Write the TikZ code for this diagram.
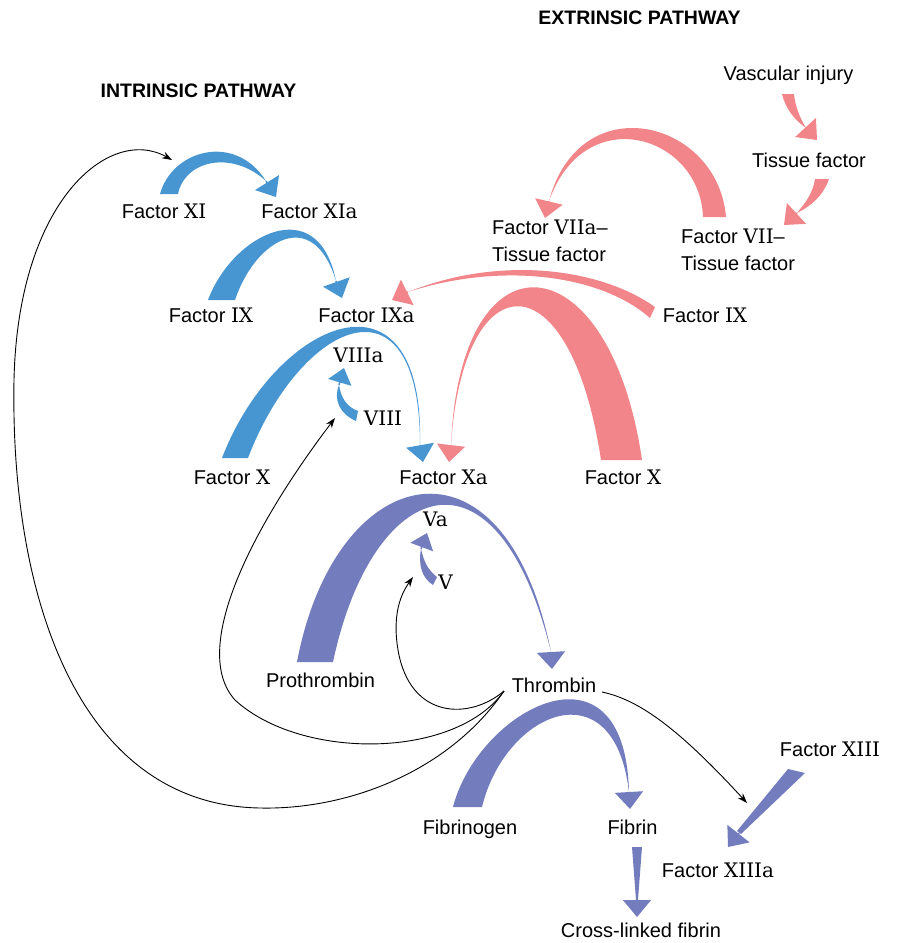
\documentclass[tikz,border=0pt]{standalone}
\usepackage{fontspec}
\setmainfont{Liberation Sans}
\newfontfamily\numfont{DejaVu Serif}
\usetikzlibrary{arrows.meta}
\definecolor{cblue}{RGB}{71,150,210}
\definecolor{cred}{RGB}{242,133,137}
\definecolor{cpurple}{RGB}{115,125,190}
\newcommand{\rnum}[1]{{\numfont #1}}

\begin{document}
\begin{tikzpicture}[x=1pt, y=-1pt,
    lbl/.style={inner sep=0pt, text height=14.5pt, text depth=0pt, font=\fontsize{20}{27}\selectfont},
    twoline/.style={inner sep=0pt, align=left, anchor=north west, font=\fontsize{20}{27}\selectfont},
    heading/.style={inner sep=0pt, text height=14pt, text depth=0pt, font=\fontsize{19.5}{22}\selectfont\bfseries},
    tiph/.style={-{Triangle[length=17pt, width=28pt]}, line width=1.5pt},
    smalltiph/.style={-{Triangle[length=15pt, width=24pt]}, line width=1.5pt},
    feedback/.style={-{Stealth[length=10pt, width=7pt]}, line width=0.9pt}
]
\useasboundingbox (0,0) rectangle (900,943);

% Blue arrows
\fill[cblue] (160,194) .. controls (172,150) and (235,132) .. (266,181)
    .. controls (232,150) and (185,160) .. (178,194) -- cycle;
\draw[cblue, tiph] (266,181) -- (276,197);
\fill[cblue] (208,300) .. controls (232,235) and (318,190) .. (336,281)
    .. controls (313,205) and (255,240) .. (235,300) -- cycle;
\draw[cblue, tiph] (336,281) -- (342,298);
\fill[cblue] (222,458) .. controls (275,320) and (425,255) .. (420,445)
    .. controls (420,266) and (300,322) .. (248,458) -- cycle;
\draw[cblue, tiph] (420,445) -- (423,462);
\fill[cblue] (356,421) .. controls (340,414) and (333,400) .. (339,385)
    .. controls (341,398) and (347,407) .. (358,411) -- cycle;
\draw[cblue, smalltiph] (339,385) -- (344,368);

% Red arrows
\fill[cred] (782,94) .. controls (786,110) and (795,120) .. (806,128)
    .. controls (800,118) and (795,106) .. (794,94) -- cycle;
\draw[cred, tiph] (806,128) -- (817,140);
\fill[cred] (829,179) .. controls (823,196) and (811,206) .. (797,213)
    .. controls (807,201) and (813,192) .. (815,179) -- cycle;
\draw[cred, tiph] (797,213) -- (784,225);
\fill[cred] (726,217) .. controls (718,120) and (580,85) .. (549,201)
    .. controls (585,100) and (700,135) .. (703,217) -- cycle;
\draw[cred, tiph] (549,201) -- (545,218);
\fill[cred] (655,307) .. controls (600,268) and (500,255) .. (408,292)
    .. controls (500,262) and (600,274) .. (650,318) -- cycle;
\draw[cred, tiph] (408,292) -- (392,300);
\fill[cred] (642,460) .. controls (610,240) and (460,225) .. (451,445)
    .. controls (463,260) and (570,255) .. (601,460) -- cycle;
\draw[cred, tiph] (451,445) -- (449,462);

% Purple arrows
\fill[cpurple] (297,662) .. controls (335,460) and (505,420) .. (551,652)
    .. controls (497,432) and (372,478) .. (333,662) -- cycle;
\draw[cpurple, tiph] (551,652) -- (552,669);
\fill[cpurple] (433,585) .. controls (422,578) and (418,565) .. (421,549)
    .. controls (424,562) and (428,570) .. (437,577) -- cycle;
\draw[cpurple, smalltiph] (421,549) -- (427,533);
\fill[cpurple] (453,807) .. controls (478,710) and (625,630) .. (629,792)
    .. controls (614,665) and (505,712) .. (482,807) -- cycle;
\draw[cpurple, tiph] (629,792) -- (630,809);
\fill[cpurple] (632,847) -- (642,847) -- (638,900) -- (636,900) -- cycle;
\draw[cpurple, tiph] (637,899) -- (637,917);
\fill[cpurple] (788,769) -- (805,773) -- (741,834) -- (737,831) -- cycle;
\draw[cpurple, tiph] (739,833) -- (728,847);

% Headings
\node[heading] (intr) at (198.5,90) {INTRINSIC PATHWAY};
\node[heading] (extr) at (639.5,17) {EXTRINSIC PATHWAY};

% Extrinsic side
\node[lbl] (vinj) at (788.5,73.5) {Vascular injury};
\node[lbl] (tf) at (809,160.5) {Tissue factor};
\node[twoline] (fvii) at (681,229) {Factor \rnum{VII}–\\Tissue factor};
\node[twoline] (fviia) at (492,220) {Factor \rnum{VIIa}–\\Tissue factor};
\node[lbl] (fixR) at (705,315.5) {Factor \rnum{IX}};
\node[lbl] (fxR) at (623,477.5) {Factor \rnum{X}};

% Intrinsic side
\node[lbl] (fxi) at (164,211.5) {Factor \rnum{XI}};
\node[lbl] (fxia) at (309.5,211.5) {Factor \rnum{XIa}};
\node[lbl] (fixL) at (211,315.5) {Factor \rnum{IX}};
\node[lbl] (fixa) at (366.5,315.5) {Factor \rnum{IXa}};
\node[lbl] (viiia) at (358.5,355.5) {\rnum{VIIIa}};
\node[lbl] (viii) at (383,418.5) {\rnum{VIII}};
\node[lbl] (fxL) at (232,477.5) {Factor \rnum{X}};
\node[lbl] (fxa) at (443.5,477.5) {Factor \rnum{Xa}};

% Common pathway
\node[lbl] (va) at (435.5,519) {\rnum{Va}};
\node[lbl] (v) at (445.5,582.5) {\rnum{V}};
\node[lbl] (prothr) at (320.5,680.5) {Prothrombin};
\node[lbl] (thr) at (554,685.5) {Thrombin};
\node[lbl] (fxiii) at (830,749.5) {Factor \rnum{XIII}};
\node[lbl] (fbg) at (470,827.5) {Fibrinogen};
\node[lbl] (fbn) at (632.5,827.5) {Fibrin};
\node[lbl] (fxiiia) at (718,870) {Factor \rnum{XIIIa}};
\node[lbl] (xfbn) at (641,930) {Cross-linked fibrin};

% Thrombin feedback
\coordinate (thrL) at (504,691);
\coordinate (thrR) at (602,692);
\coordinate (toXI) at (172,160);
\coordinate (toVIII) at (335,418);
\coordinate (toV) at (413,577);
\coordinate (toXIIIa) at (747,803);
\draw[feedback] (thrL) .. controls (450,770) and (350,810) .. (260,808)
    .. controls (80,805) and (10,600) .. (14,380)
    .. controls (18,200) and (110,125) .. (toXI);
\draw[feedback] (thrL) .. controls (455,760) and (300,760) .. (235,700)
    .. controls (190,650) and (250,530) .. (toVIII);
\draw[feedback] (thrL) .. controls (470,720) and (410,720) .. (398,650)
    .. controls (393,620) and (398,598) .. (toV);
\draw[feedback] (thrR) .. controls (640,700) and (680,730) .. (toXIIIa);

\end{tikzpicture}
\end{document}
